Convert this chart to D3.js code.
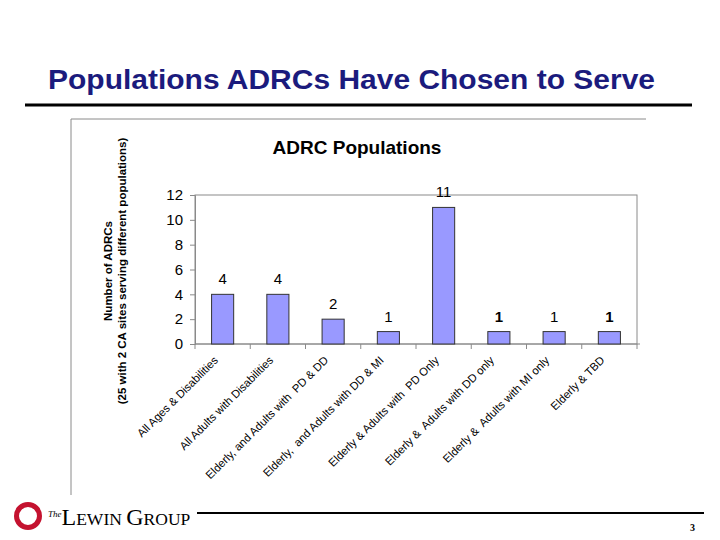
<!DOCTYPE html>
<html>
<head>
<meta charset="utf-8">
<script src="https://cdn.jsdelivr.net/npm/d3@7"></script>
<style>
  body { margin: 0; background: #fff; }
  svg { display: block; }
</style>
</head>
<body>
<script>
// chart data
var categories = [
	"All Ages & Disabilities",
	"All Adults with Disabilities",
	"Elderly, and Adults with  PD & DD",
	"Elderly,  and Adults with DD & MI",
	"Elderly & Adults with  PD Only",
	"Elderly &  Adults with DD only",
	"Elderly &  Adults with MI only",
	"Elderly & TBD"
];
var counts = [4, 4, 2, 1, 11, 1, 1, 1];
var yTicks = [0, 2, 4, 6, 8, 10, 12];

var W = 720, H = 540;
var font = "'Liberation Sans', Arial, sans-serif";
var serif = "'Liberation Serif', 'Times New Roman', serif";

var svg = d3.select("body")
	.append("svg")
	.attr("width", W)
	.attr("height", H);

// slide title
svg.append("text")
	.attr("x", 48)
	.attr("y", 89)
	.attr("font-family", font)
	.attr("font-weight", "bold")
	.attr("font-size", "28px")
	.attr("fill", "#1b1b7d")
	.attr("textLength", 607)
	.attr("lengthAdjust", "spacingAndGlyphs")
	.text("Populations ADRCs Have Chosen to Serve");

svg.append("line")
	.attr("x1", 25).attr("x2", 692)
	.attr("y1", 105).attr("y2", 105)
	.attr("stroke", "#000")
	.attr("stroke-width", 3);

// chart frame (top + left only)
svg.append("path")
	.attr("d", "M71,495 L71,119 L646,119")
	.attr("fill", "none")
	.attr("stroke", "#8a8a8a")
	.attr("stroke-width", 1);

// chart title
svg.append("text")
	.attr("x", 357)
	.attr("y", 154)
	.attr("text-anchor", "middle")
	.attr("font-family", font)
	.attr("font-weight", "bold")
	.attr("font-size", "19px")
	.attr("fill", "#000")
	.text("ADRC Populations");

var plot = { left: 195, right: 637, top: 195, bottom: 344 };

var x = d3.scaleBand()
	.domain(categories)
	.range([plot.left, plot.right])
	.paddingInner(0.6)
	.paddingOuter(0.3);

var y = d3.scaleLinear()
	.domain([0, 12])
	.range([plot.bottom, plot.top]);

// plot border
svg.append("rect")
	.attr("x", plot.left)
	.attr("y", plot.top)
	.attr("width", plot.right - plot.left)
	.attr("height", plot.bottom - plot.top)
	.attr("fill", "none")
	.attr("stroke", "#8a8a8a");

// y axis
var yAxis = svg.append("g")
	.attr("transform", "translate(" + plot.left + ",0)")
	.call(d3.axisLeft(y).tickValues(yTicks).tickSize(5).tickPadding(7));
yAxis.select(".domain").attr("stroke", "#8a8a8a");
yAxis.selectAll(".tick line").attr("stroke", "#8a8a8a");
yAxis.selectAll(".tick text")
	.attr("font-family", font)
	.attr("font-size", "15px")
	.attr("fill", "#000");

// x axis line + tick marks at category boundaries
svg.append("line")
	.attr("x1", plot.left).attr("x2", plot.right + 3)
	.attr("y1", plot.bottom).attr("y2", plot.bottom)
	.attr("stroke", "#8a8a8a");

var bounds = [plot.left].concat(categories.map(function (c) {
	return x(c) + x.bandwidth() / 2 + x.step() / 2;
}));
svg.selectAll(".xtick")
	.data(bounds)
	.enter().append("line")
	.attr("class", "xtick")
	.attr("x1", function (d) { return d; })
	.attr("x2", function (d) { return d; })
	.attr("y1", plot.bottom)
	.attr("y2", plot.bottom + 5)
	.attr("stroke", "#8a8a8a");

// bars
svg.selectAll(".bar")
	.data(counts)
	.enter().append("rect")
	.attr("class", "bar")
	.attr("x", function (d, i) { return x(categories[i]); })
	.attr("y", function (d) { return y(d); })
	.attr("width", x.bandwidth())
	.attr("height", function (d) { return y(0) - y(d); })
	.attr("fill", "#9999ff")
	.attr("stroke", "#333")
	.attr("stroke-width", 1);

// value labels
svg.selectAll(".val")
	.data(counts)
	.enter().append("text")
	.attr("class", "val")
	.attr("x", function (d, i) { return x(categories[i]) + x.bandwidth() / 2; })
	.attr("y", function (d) { return y(d) - 10; })
	.attr("text-anchor", "middle")
	.attr("font-family", font)
	.attr("font-size", "15px")
	.attr("font-weight", function (d, i) { return (i === 5 || i === 7) ? "bold" : "normal"; })
	.attr("fill", "#000")
	.text(function (d) { return d; });

// category labels, rotated
svg.selectAll(".cat")
	.data(categories)
	.enter().append("text")
	.attr("class", "cat")
	.attr("transform", function (d) {
		return "translate(" + (x(d) + x.bandwidth() / 2 - 4) + "," + (plot.bottom + 17) + ") rotate(-45)";
	})
	.attr("text-anchor", "end")
	.attr("font-family", font)
	.attr("font-size", "11.3px")
	.attr("fill", "#000")
	.attr("xml:space", "preserve")
	.style("white-space", "pre")
	.text(function (d) { return d; });

// y axis title
var yTitle = svg.append("text")
	.attr("transform", "translate(112,271) rotate(-90)")
	.attr("text-anchor", "middle")
	.attr("font-family", font)
	.attr("font-weight", "bold")
	.attr("font-size", "11.5px")
	.attr("fill", "#000");
yTitle.append("tspan").attr("x", 0).attr("dy", 0).text("Number of ADRCs");
yTitle.append("tspan").attr("x", 0).attr("dy", 14).text("(25 with 2 CA sites serving different populations)");

// footer
svg.append("line")
	.attr("x1", 197).attr("x2", 704)
	.attr("y1", 513).attr("y2", 513)
	.attr("stroke", "#000")
	.attr("stroke-width", 2);

svg.append("ellipse")
	.attr("cx", 28).attr("cy", 516)
	.attr("rx", 11.5).attr("ry", 11.5)
	.attr("fill", "none")
	.attr("stroke", "#c4122f")
	.attr("stroke-width", 5);

var logo = svg.append("text")
	.attr("x", 48)
	.attr("y", 525)
	.attr("font-family", serif)
	.attr("fill", "#000");
logo.append("tspan").attr("font-size", "9px").attr("font-style", "italic").attr("dy", -8).text("The");
logo.append("tspan").attr("font-size", "24px").attr("dy", 8).text("L");
logo.append("tspan").attr("font-size", "17.5px").text("EWIN ");
logo.append("tspan").attr("font-size", "24px").text("G");
logo.append("tspan").attr("font-size", "17.5px").text("ROUP");

svg.append("text")
	.attr("x", 690)
	.attr("y", 531)
	.attr("font-family", serif)
	.attr("font-weight", "bold")
	.attr("font-size", "10px")
	.attr("fill", "#000")
	.text("3");
</script>
</body>
</html>
